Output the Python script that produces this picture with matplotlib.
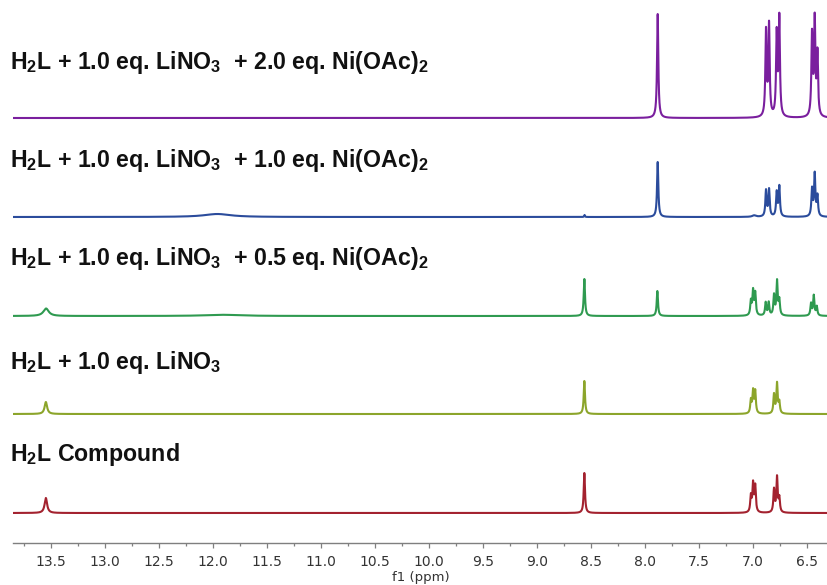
import numpy as np
import matplotlib
matplotlib.use("Agg")
import matplotlib.pyplot as plt
from matplotlib.ticker import MultipleLocator, FormatStrFormatter

plt.rcParams["font.family"] = ["DejaVu Sans"]
plt.rcParams["mathtext.fontset"] = "custom"
plt.rcParams["mathtext.rm"] = "Liberation Sans:bold"
plt.rcParams["mathtext.bf"] = "Liberation Sans:bold"
plt.rcParams["mathtext.default"] = "bf"

# Sample labels, top to bottom
labels = [
    r"H$_2$L + 1.0 eq. LiNO$_3$  + 2.0 eq. Ni(OAc)$_2$",
    r"H$_2$L + 1.0 eq. LiNO$_3$  + 1.0 eq. Ni(OAc)$_2$",
    r"H$_2$L + 1.0 eq. LiNO$_3$  + 0.5 eq. Ni(OAc)$_2$",
    r"H$_2$L + 1.0 eq. LiNO$_3$",
    r"H$_2$L Compound",
]
colors = ["#7a1f9e", "#2b4c9c", "#2f9a50", "#8ca52b", "#a3222f"]

# Peak lists: chemical shift (ppm), line amplitude, half-width (ppm)
ni20_ppm = [7.883, 6.880, 6.852, 6.781, 6.757, 6.454, 6.429, 6.404]
ni20_int = [104, 85, 91, 82, 98, 81, 95, 62]
ni20_hw = [0.007] * 8

ni10_ppm = [11.96, 8.560, 7.883, 6.99, 6.880, 6.852, 6.781, 6.757, 6.454, 6.429, 6.404]
ni10_int = [3, 2, 55, 1.5, 26, 27, 24, 30, 27, 42, 20]
ni10_hw = [0.15, 0.004, 0.007, 0.02, 0.007, 0.007, 0.007, 0.007, 0.007, 0.007, 0.007]

ni05_ppm = [13.546, 11.91, 8.562, 7.886, 7.020, 7.000, 6.980, 6.883, 6.855,
            6.806, 6.778, 6.757, 6.463, 6.438, 6.410]
ni05_int = [7.5, 1.2, 37, 25, 14, 24, 22, 13, 13, 20, 34, 15, 12, 20, 9]
ni05_hw = [0.03, 0.2] + [0.007] * 13

li_ppm = [13.548, 8.562, 7.020, 7.000, 6.980, 6.806, 6.778, 6.757]
li_int = [12, 33, 13, 22, 22, 19, 30, 11]
li_hw = [0.014] + [0.007] * 7

h2l_ppm = [13.548, 8.562, 7.020, 7.000, 6.980, 6.806, 6.778, 6.757]
h2l_int = [15, 40, 16, 28, 26, 23, 35, 14]
h2l_hw = [0.014] + [0.007] * 7

spectra = [
    (ni20_ppm, ni20_int, ni20_hw),
    (ni10_ppm, ni10_int, ni10_hw),
    (ni05_ppm, ni05_int, ni05_hw),
    (li_ppm, li_int, li_hw),
    (h2l_ppm, h2l_int, h2l_hw),
]

# Vertical stacking offsets and label heights (figure pixels from top)
offsets = [425, 326, 227, 129, 30]
label_y = [62, 160, 258, 362, 455]

W, H = 828, 585
fig = plt.figure(figsize=(W / 100, H / 100), dpi=100)
ax = fig.add_axes([12.7 / W, 42 / H, 1 - 12.7 / W, 1 - 42 / H])

x = np.linspace(13.86, 6.30, 20000)


def lorentz(x, x0, h, hw):
    return h / (1 + ((x - x0) / hw) ** 2)


for (pp, ii, hw), off, col in zip(spectra, offsets, colors):
    y = np.zeros_like(x)
    for p0, h, w in zip(pp, ii, hw):
        y += lorentz(x, p0, h, w)
    ax.plot(x, y + off, color=col, lw=1.5, solid_joinstyle="round")

for lab, ly in zip(labels, label_y):
    fig.text(10 / W, 1 - ly / H, lab, fontsize=16.7, color="#111111",
             family="Liberation Sans", fontweight="bold",
             ha="left", va="center")

ax.set_xlim(13.855, 6.306)
ax.set_ylim(0, 543)
for s in ["left", "right", "top"]:
    ax.spines[s].set_visible(False)
ax.spines["bottom"].set_color("#7f7f7f")
ax.spines["bottom"].set_linewidth(1.0)
ax.set_yticks([])
ax.xaxis.set_major_locator(MultipleLocator(0.5))
ax.xaxis.set_minor_locator(MultipleLocator(0.25))
ax.xaxis.set_major_formatter(FormatStrFormatter("%.1f"))
ax.tick_params(axis="x", which="major", length=3.4, width=0.9, color="#7f7f7f",
               labelsize=10, labelcolor="#333333", pad=5)
ax.tick_params(axis="x", which="minor", length=2, width=0.9, color="#7f7f7f")
ax.set_xlabel("f1 (ppm)", fontsize=9.5, color="#333333", labelpad=2)
ax.patch.set_alpha(0)

fig.savefig("out.png", dpi=100)
